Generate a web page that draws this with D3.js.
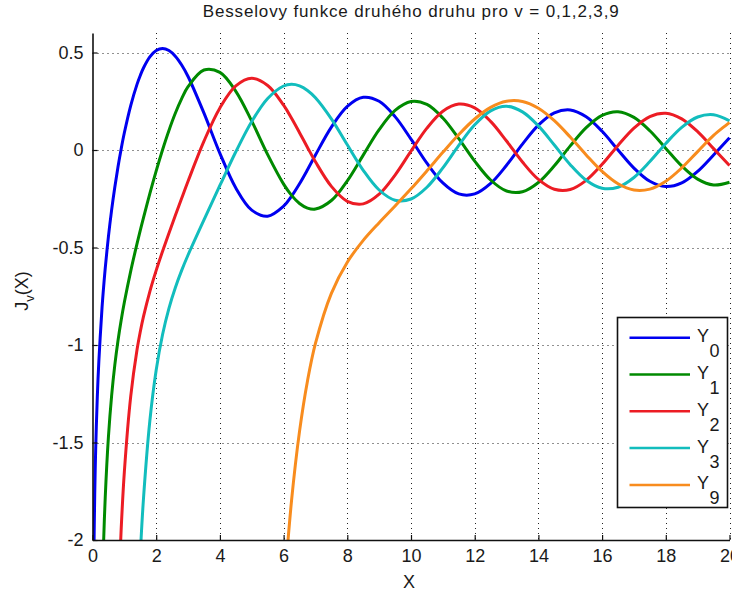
<!DOCTYPE html>
<html><head><meta charset="utf-8">
<script src="https://cdn.jsdelivr.net/npm/d3@7"></script>
<style>
body{margin:0;background:#fff}
text{font-family:"Liberation Sans",Arial,sans-serif;fill:#1a1a1a}
</style>
</head><body>
<svg id="c" width="732" height="594"></svg>
<script>
const title = "Besselovy funkce druhého druhu pro v = 0,1,2,3,9";
const xs = [0.04, 0.07, 0.1, 0.15, 0.2, 0.3, 0.35, 0.4, 0.5, 0.6,
  0.7, 0.8, 0.9, 1.0, 1.2, 1.4, 1.5, 1.6, 1.8, 2.0,
  2.2, 2.4, 2.6, 2.8, 3.0, 3.5, 4.0, 4.5, 5.0, 5.5,
  6.0, 6.25, 6.5, 6.75, 7.0, 7.5, 8.0, 8.5, 9.0, 9.5,
  10.0, 10.5, 11.0, 11.5, 12.0, 12.5, 13.0, 13.5, 14.0, 14.5,
  15.0, 15.5, 16.0, 16.5, 17.0, 17.5, 18.0, 18.5, 19.0, 19.5,
  20.0];
const Y0 = [-2.123, -1.767, -1.5342, -1.2707, -1.0811, -0.8073, -0.7001, -0.6060, -0.4445, -0.3085,
  -0.1907, -0.0868, 0.0056, 0.0883, 0.2281, 0.3379, 0.3824, 0.4204, 0.4774, 0.5104,
  0.5208, 0.5104, 0.4813, 0.4359, 0.3769, 0.1890, -0.0169, -0.1947, -0.3085, -0.3395,
  -0.2882, -0.2369, -0.1732, -0.1014, -0.0259, 0.1173, 0.2235, 0.2702, 0.2499, 0.1712,
  0.0557, -0.0675, -0.1689, -0.2252, -0.2252, -0.1712, -0.0782, 0.0301, 0.1272, 0.1903,
  0.2055, 0.1706, 0.0958, 0.0002, -0.0926, -0.1604, -0.1876, -0.1687, -0.1095, -0.0255,
  0.0626];
const Y1 = [null, null, null, null, null, -2.2931, -2.0045, -1.7809, -1.4715, -1.2604,
  -1.1032, -0.9781, -0.8731, -0.7812, -0.6211, -0.4791, -0.4123, -0.3476, -0.2237, -0.1070,
  0.0015, 0.1005, 0.1884, 0.2635, 0.3247, 0.4102, 0.3979, 0.3010, 0.1479, -0.0238,
  -0.1750, -0.2326, -0.2741, -0.2977, -0.3027, -0.2591, -0.1581, -0.0262, 0.1043, 0.2032,
  0.2490, 0.2337, 0.1637, 0.0579, -0.0571, -0.1538, -0.2101, -0.2140, -0.1666, -0.0810,
  0.0211, 0.1148, 0.1780, 0.1965, 0.1672, 0.0986, 0.0082, -0.0818, -0.1496, -0.1796,
  -0.1655];
const Y2 = [null, null, null, null, null, null, null, null, null, null,
  null, -2.3585, -1.9458, -1.6507, -1.2633, -1.0223, -0.9321, -0.8549, -0.7260, -0.6174,
  -0.5194, -0.4267, -0.3364, -0.2477, -0.1604, 0.0454, 0.2159, 0.3285, 0.3677, 0.3308,
  0.2299, 0.1625, 0.0889, 0.0132, -0.0605, -0.1864, -0.2630, -0.2764, -0.2268, -0.1284,
  -0.0059, 0.1121, 0.1986, 0.2353, 0.2157, 0.1466, 0.0459, -0.0618, -0.1510, -0.2015,
  -0.2027, -0.1558, -0.0736, 0.0236, 0.1123, 0.1717, 0.1885, 0.1598, 0.0938, 0.0070,
  -0.0792];
const Y3 = [null, null, null, null, null, null, null, null, null, null,
  null, null, null, null, null, -2.4418, -2.0733, -1.7897, -1.3896, -1.1278,
  -0.9459, -0.8117, -0.7059, -0.6174, -0.5386, -0.3583, -0.1820, -0.0090, 0.1463, 0.2644,
  0.3282, 0.3366, 0.3288, 0.3055, 0.2681, 0.1597, 0.0265, -0.1039, -0.2051, -0.2573,
  -0.2514, -0.1910, -0.0915, 0.0239, 0.1290, 0.2008, 0.2242, 0.1957, 0.1235, 0.0255,
  -0.0751, -0.1550, -0.1964, -0.1908, -0.1408, -0.0593, 0.0337, 0.1163, 0.1693, 0.1810,
  0.1497];
const Y9 = [null, null, null, null, null, null, null, null, null, null,
  null, null, null, null, null, null, null, null, null, null,
  null, null, null, null, null, null, null, null, null, null,
  -2.2906, -1.7973, -1.4431, -1.1843, -0.9922, -0.7349, -0.5753, -0.4636, -0.3727, -0.2872,
  -0.1993, -0.1068, -0.0120, 0.0793, 0.1590, 0.2185, 0.2501, 0.2489, 0.2142, 0.1503,
  0.0662, -0.0253, -0.1098, -0.1733, -0.2054, -0.2007, -0.1603, -0.0919, -0.0083, 0.0747,
  0.1412];
const seriesValues = [Y0, Y1, Y2, Y3, Y9];
const seriesSubs = ["0", "1", "2", "3", "9"];
const seriesColors = ["#0000f0", "#008a00", "#ec1c24", "#12bdbd", "#f88c1e"];
const xTicks = [0, 2, 4, 6, 8, 10, 12, 14, 16, 18, 20];
const yTicks = [-2, -1.5, -1, -0.5, 0, 0.5];

const svg = d3.select("#c");
const x = d3.scaleLinear().domain([0, 20]).range([92.5, 729.5]);
const y = d3.scaleLinear().domain([-2, 0.6]).range([540, 33]);

svg.append("defs").append("clipPath").attr("id", "clip")
  .append("rect").attr("x", x(0)).attr("y", y(0.6))
  .attr("width", x(20) - x(0) + 2).attr("height", y(-2) - y(0.6));

// grid
const grid = svg.append("g");
grid.selectAll(".gx").data(xTicks.filter(t => t !== 0)).join("line")
  .attr("x1", d => Math.round(x(d)) + 0.5).attr("x2", d => Math.round(x(d)) + 0.5)
  .attr("y1", y(0.6)).attr("y2", y(-2))
  .attr("stroke", "#222").attr("stroke-width", 1).attr("stroke-dasharray", "1,4");
grid.selectAll(".gy").data(yTicks.filter(t => t !== -2)).join("line")
  .attr("y1", d => Math.round(y(d)) + 0.5).attr("y2", d => Math.round(y(d)) + 0.5)
  .attr("x1", x(0)).attr("x2", x(20))
  .attr("stroke", "#222").attr("stroke-width", 1).attr("stroke-dasharray", "1,4");

// curves
const line = d3.line()
  .defined(d => d[1] !== null)
  .x(d => x(d[0])).y(d => y(d[1]))
  .curve(d3.curveCatmullRom.alpha(0.5));
const curves = svg.append("g").attr("clip-path", "url(#clip)");
seriesValues.forEach((vals, i) => {
  const pts = xs.map((xv, j) => [xv, vals[j]]);
  curves.append("path").attr("d", line(pts))
    .attr("fill", "none").attr("stroke", seriesColors[i])
    .attr("stroke-width", 3).attr("stroke-linejoin", "round");
});

// axes
const fmt = d => String(d);
const xAxis = svg.append("g").attr("transform", `translate(0,${y(-2)})`)
  .call(d3.axisBottom(x).tickValues(xTicks).tickFormat(fmt).tickSize(-5).tickSizeOuter(0).tickPadding(9));
const yAxis = svg.append("g").attr("transform", `translate(${x(0)},0)`)
  .call(d3.axisLeft(y).tickValues(yTicks).tickFormat(fmt).tickSize(-5).tickSizeOuter(0).tickPadding(9));
[xAxis, yAxis].forEach(a => {
  a.select(".domain").attr("stroke", "#111").attr("stroke-width", 1.6);
  a.selectAll(".tick line").attr("stroke", "#111").attr("stroke-width", 1.2);
  a.selectAll(".tick text").attr("font-size", 18).attr("fill", "#1a1a1a")
    .style("font-family", '"Liberation Sans",Arial,sans-serif');
});

// title
svg.append("text").attr("x", 410.7).attr("y", 17.3).attr("text-anchor", "middle")
  .attr("font-size", 17).attr("textLength", 416).attr("lengthAdjust", "spacing")
  .text(title);

// x label
svg.append("text").attr("x", 409).attr("y", 588).attr("text-anchor", "middle")
  .attr("font-size", 18).text("X");

// y label
const yl = svg.append("text").attr("transform", "translate(28,291) rotate(-90)")
  .attr("text-anchor", "middle").attr("font-size", 18);
yl.append("tspan").text("J");
yl.append("tspan").attr("dy", 6).attr("font-size", 13).text("v");
yl.append("tspan").attr("dy", -6).text("(X)");

// legend
const lg = svg.append("g");
lg.append("rect").attr("x", 617.5).attr("y", 317.5).attr("width", 110).attr("height", 190)
  .attr("fill", "#fff").attr("stroke", "#111").attr("stroke-width", 1.6);
seriesSubs.forEach((s, i) => {
  const ly = 337.7 + i * 36.8;
  lg.append("line").attr("x1", 629.5).attr("x2", 690).attr("y1", ly).attr("y2", ly)
    .attr("stroke", seriesColors[i]).attr("stroke-width", 2.5);
  const t = lg.append("text").attr("x", 697).attr("y", ly + 4.5).attr("font-size", 18);
  t.append("tspan").text("Y");
  t.append("tspan").attr("dx", 0.5).attr("dy", 15).text(s);
});
</script>
</body></html>
